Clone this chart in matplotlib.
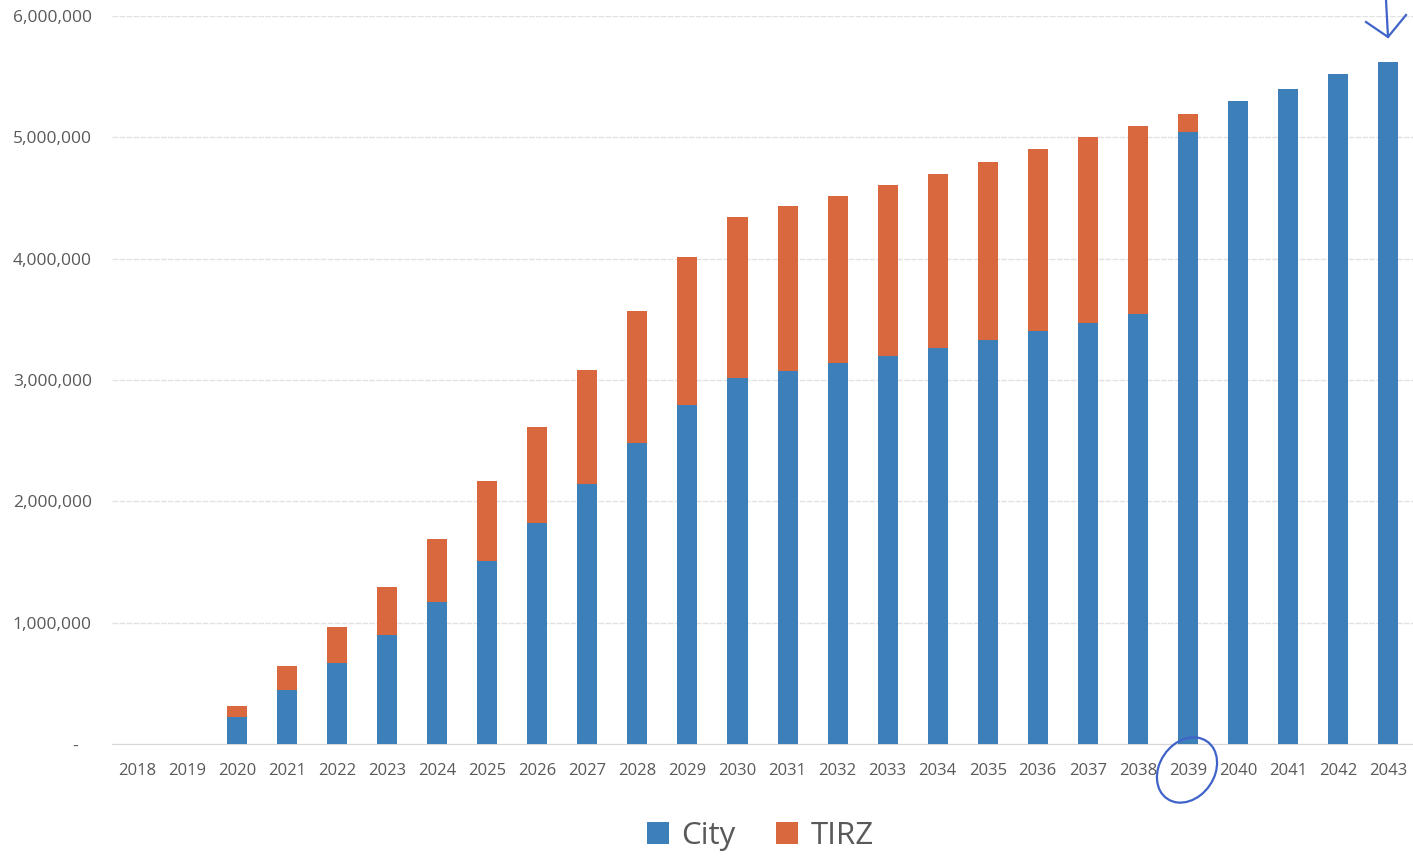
import matplotlib
matplotlib.use("Agg")
import matplotlib.pyplot as plt
from matplotlib.ticker import FuncFormatter
from matplotlib.patches import Ellipse

years = [str(y) for y in range(2018, 2044)]
city = [0, 0, 0.22e6, 0.445e6, 0.67e6, 0.90e6, 1.17e6, 1.51e6, 1.82e6, 2.14e6,
        2.48e6, 2.79e6, 3.02e6, 3.07e6, 3.14e6, 3.20e6, 3.26e6, 3.33e6, 3.40e6,
        3.47e6, 3.54e6, 5.04e6, 5.30e6, 5.40e6, 5.52e6, 5.62e6]
total = [0, 0, 0.31e6, 0.64e6, 0.96e6, 1.29e6, 1.69e6, 2.17e6, 2.61e6, 3.08e6,
         3.57e6, 4.01e6, 4.34e6, 4.43e6, 4.52e6, 4.61e6, 4.70e6, 4.80e6, 4.90e6,
         5.00e6, 5.09e6, 5.19e6, 5.30e6, 5.40e6, 5.52e6, 5.62e6]
tirz = [t - c for t, c in zip(total, city)]

BLUE = "#3d7fb8"
ORANGE = "#d9683e"
TXT = "#595959"

plt.rcParams['font.family'] = ['Open Sans', 'DejaVu Sans']

fig = plt.figure(figsize=(14.13, 8.58), dpi=100)
ax = fig.add_axes([0.0793, 0.1329, 0.9207, 0.8485])

x = list(range(len(years)))
ax.bar(x, city, width=0.4, color=BLUE, label="City", zorder=3)
ax.bar(x, tirz, width=0.4, bottom=city, color=ORANGE, label="TIRZ", zorder=3)

ax.set_xlim(-0.5, len(years) - 0.5)
ax.set_ylim(0, 6e6)
ax.set_yticks([0, 1e6, 2e6, 3e6, 4e6, 5e6, 6e6])
ax.yaxis.set_major_formatter(FuncFormatter(lambda v, p: "-   " if v == 0 else f"{int(v):,}"))
ax.set_xticks(x)
ax.set_xticklabels(years)
ax.tick_params(axis='both', length=0, colors=TXT)
ax.tick_params(axis='y', pad=14.5, labelsize=12.5)
ax.tick_params(axis='x', pad=14, labelsize=12)
ax.grid(axis='y', color='#e2e2e2', linewidth=1, linestyle=(0, (4, 1)), zorder=0)
for s in ['top', 'right', 'left']:
    ax.spines[s].set_visible(False)
ax.spines['bottom'].set_color('#d6d6d6')

leg = fig.legend(loc='center', bbox_to_anchor=(0.538, 0.026), ncol=2, frameon=False,
                 fontsize=22.5, handlelength=0.7, handleheight=0.7, columnspacing=1.3,
                 handletextpad=0.4)
for t in leg.get_texts():
    t.set_color(TXT)

# hand-drawn pen annotations
PEN = "#3f63c9"
fig.patches.append(Ellipse((1187 / 1413, 1 - 770 / 858), 58 / 1413, 66 / 858,
                           transform=fig.transFigure, fill=False, edgecolor=PEN,
                           linewidth=1.6, angle=-10))
fig.add_artist(plt.Line2D([1386 / 1413, 1388 / 1413], [1.0, 1 - 37 / 858],
                          transform=fig.transFigure, color=PEN, linewidth=1.6))
fig.add_artist(plt.Line2D([1366 / 1413, 1388 / 1413, 1406 / 1413],
                          [1 - 22 / 858, 1 - 37 / 858, 1 - 15 / 858],
                          transform=fig.transFigure, color=PEN, linewidth=1.6))

fig.savefig("out.png", dpi=100, facecolor='white')
